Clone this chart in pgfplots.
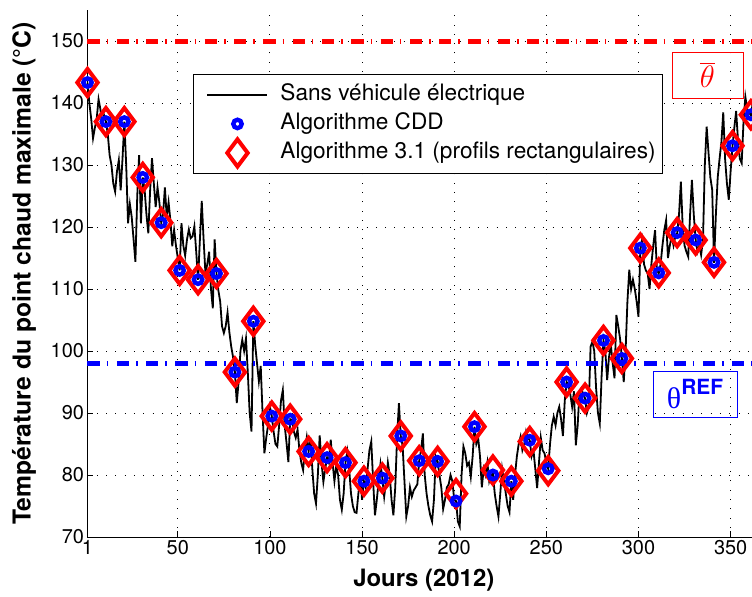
\documentclass[border=0pt]{standalone}
\usepackage{pgfplots}
\pgfplotsset{compat=1.18}
\usepackage{pgfplotstable}
\usepackage{graphicx}
\usepackage{fontspec}
\setmainfont{TeX Gyre Heros}
\newfontfamily\serifgreek{Liberation Serif}

\pgfplotstableread{
d t
1 143.3
2 140
3 137.5
4 134.3
5 136
6 137.5
7 140.6
8 139
9 136.5
10 138
11 137
12 135
13 131.6
14 130
15 127
16 125.7
17 129
18 130.8
19 125.9
20 131
21 137
22 130
23 120.6
24 123.7
25 121.6
26 118
27 114.4
28 125
29 131.6
30 120.6
31 128
32 126
33 122
34 119
35 126
36 131.1
37 127
38 123.2
39 126.4
40 124
41 120.7
42 122
43 126.4
44 121.6
45 124
46 121
47 116.9
48 119.5
49 117
50 115
51 113
52 120.6
53 117
54 115.4
55 118
56 119.6
57 118.2
58 118.5
59 120.1
60 116
61 111.5
62 118
63 124.2
64 118
65 112.5
66 114
67 116
68 110
69 106.9
70 118
71 112.5
72 109.8
73 108
74 104
75 102.9
76 104
77 106.2
78 103
79 100.7
80 99
81 96.6
82 91.6
83 95
84 100
85 101.8
86 100
87 102
88 96.5
89 90
90 87
91 104.8
92 101
93 98
94 95.1
95 97.6
96 90
97 83.5
98 86
99 88.1
100 91
101 89.5
102 87
103 85
104 84.6
105 88
106 92
107 93.7
108 88
109 85.2
110 82.1
111 89
112 88.9
113 87
114 86
115 87.3
116 84
117 82
118 80.8
119 84
120 86.1
121 83.8
122 86
123 81
124 77
125 75.4
126 80
127 86.4
128 82
129 78.9
130 81
131 82.8
132 82
133 85.7
134 82
135 79
136 81.5
137 80
138 76
139 74.4
140 77
141 82
142 83.8
143 81
144 77
145 75
146 74
147 73.9
148 77
149 79.8
150 76
151 79
152 78
153 81
154 84
155 85.4
156 79
157 73.5
158 76
159 79
160 81.8
161 79.5
162 76.5
163 79
164 82
165 80
166 76
167 73.5
168 78
169 86
170 91.6
171 86.3
172 84.7
173 79
174 73.3
175 75
176 78
177 76.5
178 77.5
179 78
180 78.5
181 82.3
182 84
183 86.7
184 80
185 77
186 75
187 73.5
188 72.5
189 76
190 83
191 82.2
192 80
193 78
194 74.5
195 76
196 78
197 78.5
198 80
199 79
200 76
201 75.8
202 72.5
203 71.7
204 80
205 84.6
206 83.5
207 81.5
208 82
209 79.7
210 83
211 87.8
212 85
213 86
214 83
215 78
216 81
217 80
218 82
219 79
220 80
221 80.2
222 77
223 75
224 73.3
225 77
226 81
227 79
228 77
229 75
230 74
231 79
232 76
233 80
234 83
235 85
236 86.2
237 84
238 85
239 87
240 86
241 85.6
242 83
243 84
244 81
245 77.9
246 82
247 86
248 84
249 83.5
250 82
251 81
252 85
253 88
254 89.4
255 88
256 90
257 91
258 89
259 86.3
260 92
261 95
262 94.5
263 93
264 91
265 93.5
266 84.8
267 88
268 93.5
269 94
270 93
271 92.4
272 90
273 91
274 100.7
275 101.5
276 100
277 94
278 90
279 88.3
280 96
281 101.7
282 100
283 95.3
284 99
285 101
286 98
287 95.6
288 105.8
289 104
290 102
291 98.8
292 95
293 100
294 108
295 113.1
296 110
297 111.5
298 110
299 108
300 105.5
301 116.5
302 118
303 114
304 113
305 112.5
306 110
307 114
308 117
309 119.5
310 113
311 112.5
312 114
313 117
314 119.5
315 121.1
316 115
317 117
318 118.5
319 117
320 118.5
321 119
322 122
323 127.3
324 120
325 117
326 116
327 115.2
328 122
329 127.6
330 122
331 118
332 116
333 117
334 115.5
335 118
336 130
337 136.2
338 132
339 128
340 126
341 114.2
342 122
343 128
344 131
345 133.7
346 138.5
347 131
348 127
349 124.4
350 129
351 133
352 136
353 138.7
354 134
355 131
356 130.3
357 137
358 141
359 139
360 138.5
361 138
362 140
363 141
}\linedata

\pgfplotstableread{
d v
1 143.3
11 137.0
21 137.0
31 128.0
41 120.7
51 113.0
61 111.5
71 112.5
81 96.6
91 104.8
101 89.5
111 89.0
121 83.8
131 82.8
141 82.0
151 79.0
161 79.5
171 86.3
181 82.3
191 82.2
201 75.8
211 87.8
221 80.0
231 79.0
241 85.6
251 81.0
261 95.0
271 92.4
281 101.7
291 98.8
301 116.6
311 112.6
321 119.1
331 117.9
341 114.3
351 133.1
361 138.1
}\cdd

\pgfplotstableread{
d v
1 143.3
11 137.0
21 137.0
31 128.0
41 120.7
51 113.0
61 111.5
71 112.5
81 96.6
91 104.8
101 89.5
111 89.0
121 83.8
131 82.8
141 82.0
151 79.0
161 79.5
171 86.3
181 82.3
191 82.2
201 77.0
211 87.8
221 80.8
231 79.0
241 85.4
251 80.7
261 95.0
271 92.4
281 101.7
291 98.8
301 116.6
311 112.6
321 119.1
331 117.9
341 114.3
351 133.1
361 138.1
}\algo

\pgfplotsset{
  mylegend/.style={legend image code/.code={%
    \pgfpathrectangle{\pgfqpoint{0bp}{-4bp}}{\pgfqpoint{67bp}{8bp}}%
    \pgfusepath{use as bounding box}%
    \begin{pgfinterruptboundingbox}
    \draw[mark repeat=2,mark phase=2,##1] plot coordinates {(7bp,0bp) (37bp,0bp) (67bp,0bp)};
    \end{pgfinterruptboundingbox}}},
  cddstyle/.style={only marks, mark=o, blue, mark size=4.2bp, mark options={line width=4.4bp, draw=blue}},
  algostyle/.style={only marks, mark=diamond, red, mark size=13.6bp, mark options={line width=4bp, draw=red}},
}

\begin{document}
\begin{tikzpicture}
\begin{axis}[
  name=ax,
  scale only axis, width=672.6bp, height=527bp,
  xmin=1, xmax=366, ymin=70, ymax=155,
  axis x line*=bottom, axis y line*=left,
  axis line style={black, line width=0.9bp},
  xtick={1,50,100,150,200,250,300,350},
  ytick={70,80,...,150},
  tick align=inside,
  major tick length=6bp,
  tick style={black, line width=0.8bp},
  grid=major,
  major grid style={black, line width=0.9bp, dash pattern=on 0.9bp off 8.4bp},
  /pgf/number format/assume math mode=true,
  tick label style={font=\fontsize{20}{24}\selectfont},
  xlabel={\bfseries Jours (2012)},
  ylabel={\bfseries Température du point chaud maximale (°C)},
  xlabel style={font=\fontsize{24}{28}\selectfont, at={(axis description cs:0.5,-0.0816)}, anchor=center},
  ylabel style={font=\fontsize{24.8}{28}\selectfont, at={(axis description cs:-0.0944,0.5)}, anchor=center},
  legend style={at={(rel axis cs:0.1569,0.8786)}, anchor=north west,
    draw=black, line width=0.9bp, fill=white,
    font=\fontsize{22.7}{26}\selectfont,
    row sep=7bp, column sep=13bp,
    inner xsep=7bp, inner ysep=9.5bp,
    nodes={inner sep=0bp, text height=17bp, text depth=5bp}},
  legend cell align=left,
  clip=false,
]
\addplot[black, line width=1.8bp, mylegend] table[x=d, y=t] {\linedata};
\addlegendentry{Sans véhicule électrique}
\addlegendimage{cddstyle, mylegend}
\addlegendentry{Algorithme CDD}
\addlegendimage{algostyle, mylegend}
\addlegendentry{Algorithme 3.1 (profils rectangulaires)}

\addplot[algostyle, forget plot] table[x=d, y=v] {\algo};
\addplot[cddstyle, forget plot] table[x=d, y=v] {\cdd};

\addplot[red, line width=5bp, dash pattern=on 12.3bp off 7bp on 1.5bp off 8.5bp, forget plot] coordinates {(1,150) (366,150)};
\addplot[blue, line width=5bp, dash pattern=on 12.3bp off 7bp on 1.5bp off 8.5bp, forget plot] coordinates {(1,98) (366,98)};

\node[draw=red, line width=0.8bp, minimum width=71bp, minimum height=46bp, inner sep=0pt, text=red]
  at (axis cs:337.4,144.5) {\fontsize{20.74}{24}\selectfont\scalebox{1.5}{$\overline{\theta}$}};
\node[draw=blue, line width=0.8bp, minimum width=84bp, minimum height=46bp, inner sep=0pt, text=blue]
  at (axis cs:330.7,93.06) {{\serifgreek\fontsize{30}{30}\selectfont θ}\raisebox{14bp}{\fontsize{21}{21}\selectfont\bfseries REF}};
\end{axis}
\pgfresetboundingbox
\path[use as bounding box] ([shift={(-87.5bp,-60bp)}]ax.south west) rectangle ++(752bp,597bp);
\end{tikzpicture}
\end{document}
